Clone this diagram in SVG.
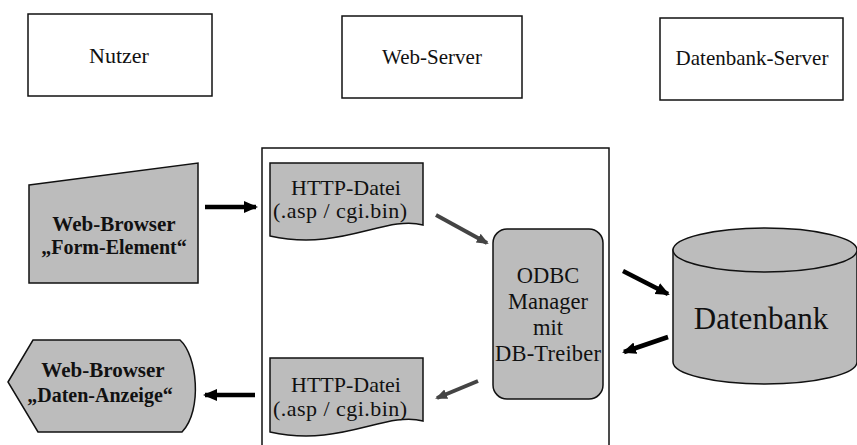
<svg xmlns="http://www.w3.org/2000/svg" width="857" height="445" viewBox="0 0 857 445">
<style>
.hdr{fill:#fff;stroke:#111;stroke-width:1.5}
.lbl{font-family:'Liberation Serif','Tinos','Times New Roman','DejaVu Serif',serif;fill:#111;text-anchor:middle}
.shape{fill:#bcbcbc;stroke:#111;stroke-width:1.5}
.cont{fill:none;stroke:#111;stroke-width:1.5}
.arr{stroke:#000;stroke-width:4.5;fill:none}
.arrg{stroke:#444;stroke-width:4;fill:none}
</style>
<defs>
<marker id="ah" markerUnits="userSpaceOnUse" markerWidth="14" markerHeight="14" viewBox="0 0 14 14" refX="12" refY="7" orient="auto">
<path d="M0,1 L14,7 L0,13 Z" fill="#000"/>
</marker>
<marker id="ahg" markerUnits="userSpaceOnUse" markerWidth="12" markerHeight="12" viewBox="0 0 12 12" refX="10" refY="6" orient="auto">
<path d="M0,1 L12,6 L0,11 Z" fill="#444"/>
</marker>
</defs>
<rect width="857" height="445" fill="#fff"/>
<g id="nutzer">
<rect class="hdr" x="28" y="14" width="184" height="82"/>
<text class="lbl" x="119" y="63" font-size="22">Nutzer</text>
</g>
<g id="webserver-header">
<rect class="hdr" x="342" y="16" width="180" height="82"/>
<text class="lbl" x="432" y="64" font-size="21">Web-Server</text>
</g>
<g id="dbserver-header">
<rect class="hdr" x="660" y="18" width="183" height="82"/>
<text class="lbl" x="752" y="65" font-size="21">Datenbank-Server</text>
</g>
<g id="webserver-container">
<rect class="cont" x="262" y="148" width="347" height="310"/>
</g>
<g id="browser-form">
<polygon class="shape" points="29,185 198,163 198,283 29,283"/>
<text class="lbl" x="114" y="231" font-size="21" font-weight="bold">Web-Browser</text>
<text class="lbl" x="114" y="254" font-size="20" font-weight="bold">„Form-Element“</text>
</g>
<g id="browser-display">
<path class="shape" d="M8,382 L33,340 L180,340 C197,355 203,410 182,432 L38,432 Z"/>
<text class="lbl" x="103" y="377" font-size="21" font-weight="bold">Web-Browser</text>
<text class="lbl" x="100" y="402" font-size="20" font-weight="bold">„Daten-Anzeige“</text>
</g>
<g id="http-top">
<path class="shape" d="M270,163 H423 V225 C385,215 340,252 270,236 Z"/>
<text class="lbl" x="346" y="195" font-size="22">HTTP-Datei</text>
<text class="lbl" x="340" y="218" font-size="22" textLength="134" lengthAdjust="spacing">(.asp / cgi.bin)</text>
</g>
<g id="http-bottom">
<path class="shape" d="M270,358 H423 V421 C385,411 340,448 270,432 Z"/>
<text class="lbl" x="346" y="392" font-size="22">HTTP-Datei</text>
<text class="lbl" x="340" y="416" font-size="22" textLength="134" lengthAdjust="spacing">(.asp / cgi.bin)</text>
</g>
<g id="odbc">
<rect class="shape" x="493" y="229" width="110" height="170" rx="14"/>
<text class="lbl" x="548" y="283" font-size="22.5">ODBC</text>
<text class="lbl" x="548" y="309" font-size="22.5">Manager</text>
<text class="lbl" x="548" y="335" font-size="22.5">mit</text>
<text class="lbl" x="548" y="361" font-size="22.5" textLength="106" lengthAdjust="spacing">DB-Treiber</text>
</g>
<g id="datenbank">
<path class="shape" d="M673,250 V362 A92,22 0 0 0 857,362 V250 Z"/>
<ellipse class="shape" cx="765" cy="250" rx="92" ry="22"/>
<text class="lbl" x="761" y="329" font-size="31">Datenbank</text>
</g>
<g id="connectors">
<line class="arr" x1="205" y1="207" x2="256" y2="207" marker-end="url(#ah)"/>
<line class="arr" x1="255" y1="395" x2="205" y2="395" marker-end="url(#ah)"/>
<line class="arrg" x1="436" y1="215" x2="487" y2="243" marker-end="url(#ahg)"/>
<line class="arrg" x1="478" y1="381" x2="437" y2="398" marker-end="url(#ahg)"/>
<line class="arr" x1="623" y1="271" x2="668" y2="294" marker-end="url(#ah)"/>
<line class="arr" x1="668" y1="337" x2="624" y2="352" marker-end="url(#ah)"/>
</g>
</svg>
